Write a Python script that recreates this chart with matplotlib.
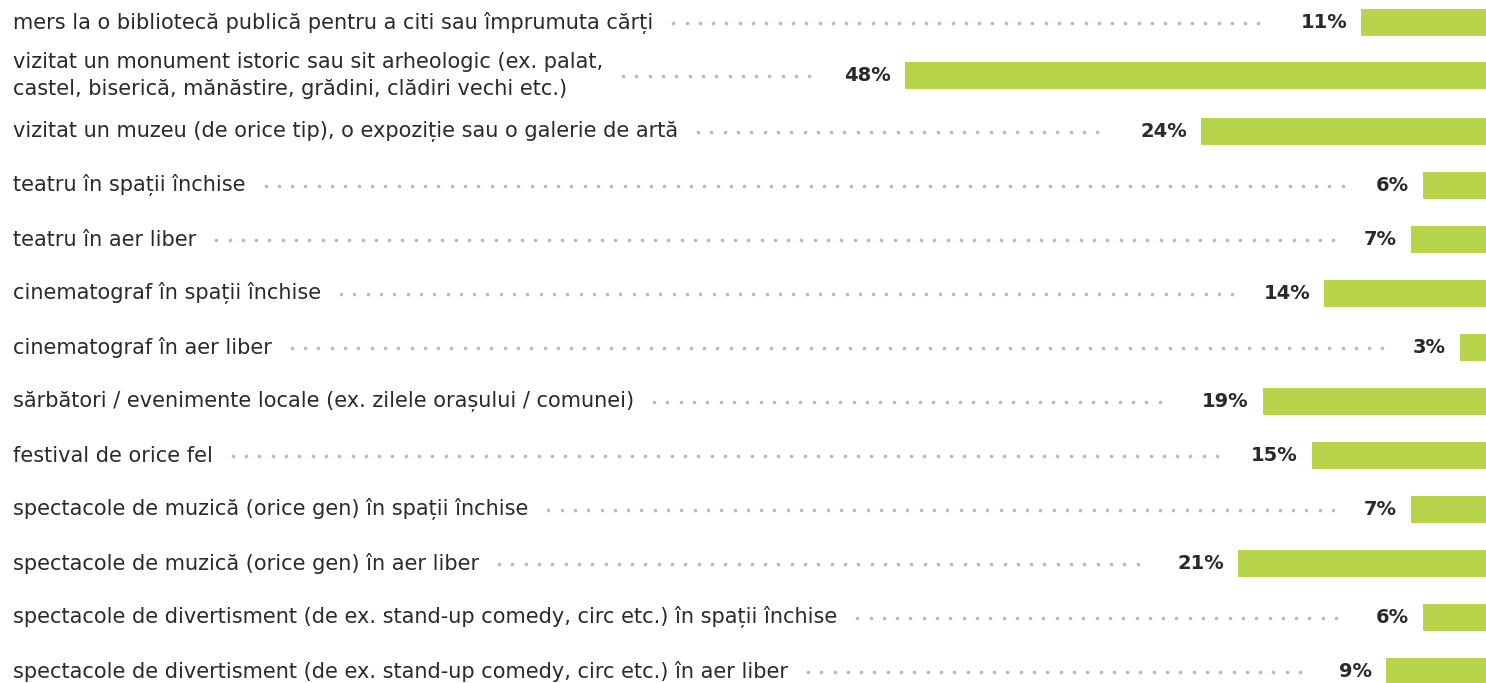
import matplotlib
matplotlib.use("Agg")
import matplotlib.pyplot as plt

labels = [
    "mers la o bibliotecă publică pentru a citi sau împrumuta cărți",
    "vizitat un monument istoric sau sit arheologic (ex. palat,\ncastel, biserică, mănăstire, grădini, clădiri vechi etc.)",
    "vizitat un muzeu (de orice tip), o expoziție sau o galerie de artă",
    "teatru în spații închise",
    "teatru în aer liber",
    "cinematograf în spații închise",
    "cinematograf în aer liber",
    "sărbători / evenimente locale (ex. zilele orașului / comunei)",
    "festival de orice fel",
    "spectacole de muzică (orice gen) în spații închise",
    "spectacole de muzică (orice gen) în aer liber",
    "spectacole de divertisment (de ex. stand-up comedy, circ etc.) în spații închise",
    "spectacole de divertisment (de ex. stand-up comedy, circ etc.) în aer liber",
]
values = [11, 48, 24, 6, 7, 14, 3, 19, 15, 7, 21, 6, 9]
value_labels = [f"{v}%" for v in values]

W, H = 1486, 683
BAR_COLOR = "#b8d44a"
TEXT_COLOR = "#2a2a2a"
DOT_COLOR = "#bababa"
FONT = "DejaVu Sans"

fig = plt.figure(figsize=(W / 100, H / 100), dpi=100)

# overlay axes in pixel units for labels and leader dots
tax = fig.add_axes([0, 0, 1, 1])
tax.set_xlim(0, W)
tax.set_ylim(H, 0)
tax.axis("off")

# bar axes: inverted x, zero slightly beyond the right edge
px_per_unit = 12.33
zero_px = 1497
xmax = 50
left_px = zero_px - xmax * px_per_unit
bax = fig.add_axes([left_px / W, 0, (zero_px - left_px) / W, 1])
bax.set_xlim(xmax, 0)
bax.set_ylim(H, 0)
bax.axis("off")

row_y = [22.5, 75.5] + [131.5 + 54 * i for i in range(len(values) - 2)]

bax.barh(row_y, values, height=27, left=0, color=BAR_COLOR, edgecolor="none")

label_texts = []
value_texts = []
for y, lab, v, vl in zip(row_y, labels, values, value_labels):
    t = tax.text(13, y, lab, ha="left", va="center", fontsize=15,
                 color=TEXT_COLOR, family=FONT, linespacing=1.45)
    label_texts.append(t)
    vt = bax.annotate(vl, xy=(v, y), xytext=(-14 * 0.72, 0),
                      textcoords="offset points", ha="right", va="center",
                      fontsize=14, fontweight="bold", color=TEXT_COLOR,
                      family=FONT)
    value_texts.append(vt)

fig.canvas.draw()
renderer = fig.canvas.get_renderer()
inv = tax.transData.inverted()
for y, t, vt in zip(row_y, label_texts, value_texts):
    bb = t.get_window_extent(renderer)
    vb = vt.get_window_extent(renderer)
    x0 = inv.transform((bb.x1, 0))[0] + 20
    x1 = inv.transform((vb.x0, 0))[0] - 30
    xs = []
    x = x0
    while x <= x1:
        xs.append(x)
        x += 13.3
    tax.plot(xs, [y] * len(xs), linestyle="none", marker="o", ms=2.6,
             color=DOT_COLOR, mec="none")

fig.savefig("out.png", dpi=100)
